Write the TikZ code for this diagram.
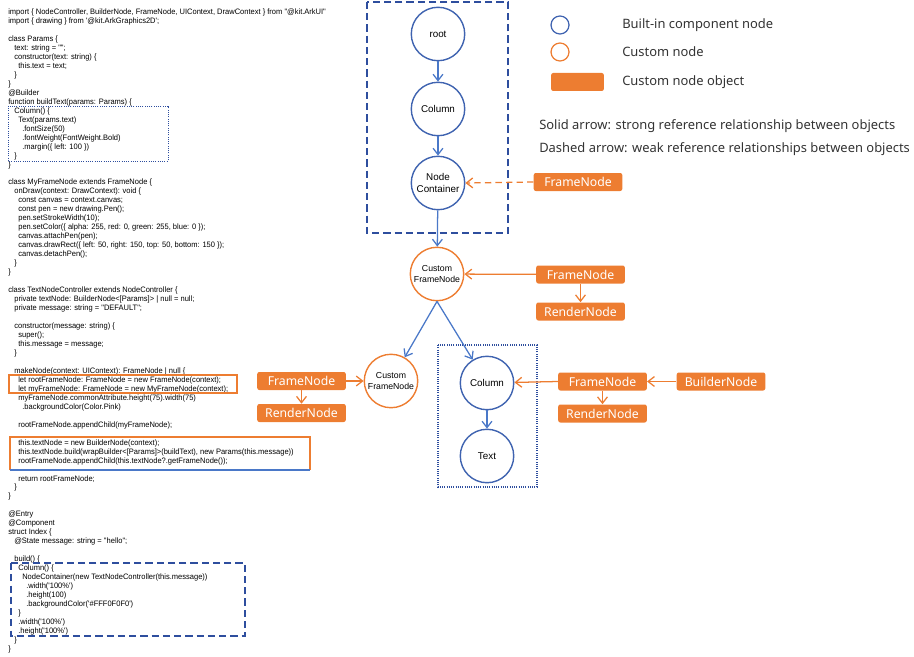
\documentclass[tikz,border=0pt]{standalone}
\usepackage{fontspec}
\setmainfont{Liberation Sans}
\newfontfamily\legfont{Noto Sans}
\newfontfamily\codefam[FakeStretch=0.955]{Liberation Sans}
\usetikzlibrary{arrows.meta}
\definecolor{nodeblue}{HTML}{3F63B0}
\definecolor{linkblue}{HTML}{4A78C8}
\definecolor{boxblue}{HTML}{2E4E9E}
\definecolor{objorange}{HTML}{ED7D31}
\newcommand{\codefont}{\codefam\fontsize{5.6}{6.38}\selectfont}
\newlength{\indw}\setlength{\indw}{2.83pt}
\newcommand{\ind}[1]{\hspace*{#1\indw}}
\tikzset{
  bnode/.style={circle,draw=nodeblue,line width=1pt,minimum size=38pt,inner sep=0pt,align=center,font=\fontsize{7}{8}\selectfont},
  cnode/.style={bnode,draw=objorange,font=\fontsize{6.2}{7.2}\selectfont},
  objbox/.style={rectangle,rounded corners=1.5pt,fill=objorange,text=white,minimum width=63pt,minimum height=12.8pt,inner sep=0pt,font=\legfont\fontsize{8.7}{9}\selectfont},
  barb/.style={-{Straight Barb[length=4.5pt,width=7pt]}},
  blueline/.style={barb,draw=linkblue,line width=0.9pt},
  orangeline/.style={barb,draw=objorange,line width=0.9pt},
  legtext/.style={anchor=west,inner sep=0pt,font=\legfont\fontsize{9.2}{11}\selectfont,text=black!80}
}
\begin{document}
\begin{tikzpicture}[x=0.025cm,y=-0.025cm]
\useasboundingbox (0,0) rectangle (914,657);
% source code on the left
\node[anchor=north west,inner sep=0pt,align=left,font=\codefont] (code) at (8,8.5) {%
import \{ NodeController, BuilderNode, FrameNode, UIContext, DrawContext \} from "@kit.ArkUI"\\
import \{ drawing \} from '@kit.ArkGraphics2D';\\
\mbox{}\\
class Params \{\\
\ind1 text: string = "";\\
\ind1 constructor(text: string) \{\\
\ind2 this.text = text;\\
\ind1 \}\\
\}\\
@Builder\\
function buildText(params: Params) \{\\
\ind1 Column() \{\\
\ind2 Text(params.text)\\
\ind3 .fontSize(50)\\
\ind3 .fontWeight(FontWeight.Bold)\\
\ind3 .margin(\{ left: 100 \})\\
\ind1 \}\\
\}\\
\mbox{}\\
class MyFrameNode extends FrameNode \{\\
\ind1 onDraw(context: DrawContext): void \{\\
\ind2 const canvas = context.canvas;\\
\ind2 const pen = new drawing.Pen();\\
\ind2 pen.setStrokeWidth(10);\\
\ind2 pen.setColor(\{ alpha: 255, red: 0, green: 255, blue: 0 \});\\
\ind2 canvas.attachPen(pen);\\
\ind2 canvas.drawRect(\{ left: 50, right: 150, top: 50, bottom: 150 \});\\
\ind2 canvas.detachPen();\\
\ind1 \}\\
\}\\
\mbox{}\\
class TextNodeController extends NodeController \{\\
\ind1 private textNode: BuilderNode<[Params]> | null = null;\\
\ind1 private message: string = "DEFAULT";\\
\mbox{}\\
\ind1 constructor(message: string) \{\\
\ind2 super();\\
\ind2 this.message = message;\\
\ind1 \}\\
\mbox{}\\
\ind1 makeNode(context: UIContext): FrameNode | null \{\\
\ind2 let rootFrameNode: FrameNode = new FrameNode(context);\\
\ind2 let myFrameNode: FrameNode = new MyFrameNode(context);\\
\ind2 myFrameNode.commonAttribute.height(75).width(75)\\
\ind3 .backgroundColor(Color.Pink)\\
\mbox{}\\
\ind2 rootFrameNode.appendChild(myFrameNode);\\
\mbox{}\\
\ind2 this.textNode = new BuilderNode(context);\\
\ind2 this.textNode.build(wrapBuilder<[Params]>(buildText), new Params(this.message))\\
\ind2 rootFrameNode.appendChild(this.textNode?.getFrameNode());\\
\mbox{}\\
\ind2 return rootFrameNode;\\
\ind1 \}\\
\}\\
\mbox{}\\
@Entry\\
@Component\\
struct Index \{\\
\ind1 @State message: string = "hello";\\
\mbox{}\\
\ind1 build() \{\\
\ind2 Column() \{\\
\ind3 NodeContainer(new TextNodeController(this.message))\\
\ind4 .width('100\%')\\
\ind4 .height(100)\\
\ind4 .backgroundColor('\#FFF0F0F0')\\
\ind2 \}\\
\ind2 .width('100\%')\\
\ind2 .height('100\%')\\
\ind1 \}\\
\}};
% marks in the code
\draw[boxblue,line width=0.7pt,dash pattern=on 0.7pt off 0.9pt] (8,106) rectangle (168,161);
\draw[objorange,line width=0.9pt] (9,375) rectangle (237,393);
\draw[objorange,line width=0.9pt] (10,470)--(10,437)--(310,437)--(310,470);
\draw[linkblue,line width=0.9pt] (10,470)--(310,470);
\draw[boxblue,line width=1pt,dash pattern=on 5pt off 3pt] (11,563) rectangle (245,636);
% tree
\draw[boxblue,line width=1pt,dash pattern=on 5pt off 3pt] (367,2) rectangle (508,233);
\draw[boxblue,line width=0.8pt,dash pattern=on 0.7pt off 0.9pt] (438,345) rectangle (537,487);
\node[bnode] (root) at (438,34) {root};
\node[bnode] (col1) at (438,109) {Column};
\node[bnode] (nc) at (438,183) {Node\\Container};
\node[cnode] (cfn) at (437,274) {Custom\\FrameNode};
\node[cnode] (cfnL) at (391,381) {Custom\\FrameNode};
\node[bnode] (col2) at (487,383) {Column};
\node[bnode] (txt) at (487,456) {Text};
\node[objbox] (fnA) at (578,182) {FrameNode};
\node[objbox] (fnB) at (580.5,274.5) {FrameNode};
\node[objbox] (rnB) at (580.5,311.5) {RenderNode};
\node[objbox] (fnL) at (301.5,381) {FrameNode};
\node[objbox] (rnL) at (301.5,413) {RenderNode};
\node[objbox] (fnR) at (602.5,381.5) {FrameNode};
\node[objbox] (rnR) at (602.5,413.5) {RenderNode};
\node[objbox] (bnR) at (721,381.5) {BuilderNode};
\draw[blueline] (root) -- (col1);
\draw[blueline] (col1) -- (nc);
\draw[blueline] (nc) -- (cfn);
\draw[orangeline,dash pattern=on 4.5pt off 3pt] (fnA.west) -- (nc.east);
\draw[orangeline] (fnB) -- (cfn);
\draw[orangeline] (fnB) -- (rnB);
\draw[blueline] (cfn.south) -- (cfnL);
\draw[blueline] (cfn.south) -- (col2);
\draw[orangeline] (fnL) -- (cfnL);
\draw[orangeline] (fnL) -- (rnL);
\draw[blueline] (col2) -- (txt);
\draw[orangeline] (bnR) -- (fnR);
\draw[orangeline] (fnR.west) -- (col2);
\draw[orangeline] (fnR) -- (rnR);
% legend
\node[circle,draw=nodeblue,line width=0.9pt,minimum size=12.8pt,inner sep=0pt] (lgB) at (560,25) {};
\node[circle,draw=objorange,line width=0.9pt,minimum size=12.8pt,inner sep=0pt] (lgO) at (560,52) {};
\node[objbox,minimum width=37.5pt] (lgR) at (577.5,82) {};
\node[legtext] (lgBt) at (622,25) {Built-in component node};
\node[legtext] (lgOt) at (622,52) {Custom node};
\node[legtext] (lgRt) at (622,82) {Custom node object};
\node[legtext] (solid) at (539,126) {Solid arrow: strong reference relationship between objects};
\node[legtext] (dash) at (539,149) {Dashed arrow: weak reference relationships between objects};
\end{tikzpicture}
\end{document}
